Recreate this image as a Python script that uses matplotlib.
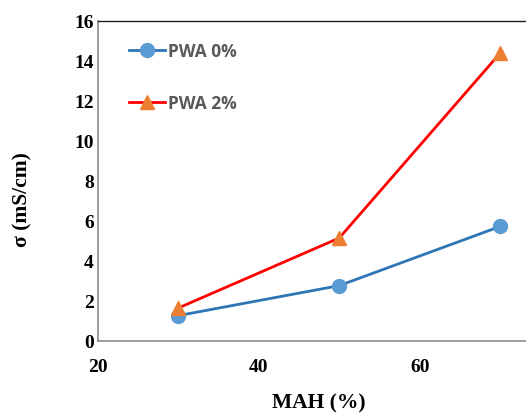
import matplotlib
matplotlib.use("Agg")
import matplotlib.pyplot as plt

# conductivity vs MAH content
mah = [30, 50, 70]
pwa0 = [1.27, 2.77, 5.73]
pwa2 = [1.65, 5.15, 14.4]
labels = ["PWA 0%", "PWA 2%"]
xticks = [20, 40, 60]
yticks = [0, 2, 4, 6, 8, 10, 12, 14, 16]

fig = plt.figure(figsize=(5.26, 4.14), dpi=100)
ax = fig.add_axes([97.8 / 526, 1 - 342 / 414, 1 - 97.8 / 526, 320 / 414])

ax.plot(mah, pwa0, color="#2E75B6", lw=2.0, marker="o", ms=10,
        mfc="#5B9BD5", mec="#5B9BD5", label=labels[0])
ax.plot(mah, pwa2, color="#FF0000", lw=2.0, marker="^", ms=10,
        mfc="#ED7D31", mec="#ED7D31", label=labels[1])

ax.set_xlim(20, 73.2)
ax.set_ylim(0, 16)
ax.set_xticks(xticks)
ax.set_yticks(yticks)

tick_font = dict(family="Liberation Serif", weight="bold", size=14)
ax.set_xticklabels([str(t) for t in xticks], fontdict=tick_font)
ax.set_yticklabels([str(t) for t in yticks], fontdict=tick_font)
ax.tick_params(axis="both", length=0)
ax.tick_params(axis="x", pad=12)
ax.tick_params(axis="y", pad=3)

ax.spines["right"].set_visible(False)
ax.spines["top"].set_color("#222222")
ax.spines["top"].set_linewidth(1.0)
for s in ("left", "bottom"):
    ax.spines[s].set_color("#8c8c8c")
    ax.spines[s].set_linewidth(1.2)

fig.text(22 / 526, 1 - 200 / 414, "σ (mS/cm)", rotation=90, ha="center",
         va="center", family="Liberation Serif", weight="bold", size=15.5)
fig.text(319 / 526, 1 - 403 / 414, "MAH (%)", ha="center", va="center",
         family="Liberation Serif", weight="bold", size=15.5)

leg = ax.legend(loc="upper left", bbox_to_anchor=(129 / 526, 1 - 43 / 414),
                bbox_transform=fig.transFigure, frameon=False, borderpad=0,
                borderaxespad=0, handlelength=2.05, handletextpad=0.2,
                labelspacing=1.95,
                prop=dict(family="Open Sans", weight="bold", size=12.5))
for t in leg.get_texts():
    t.set_color("#595959")

fig.savefig("out.png", dpi=100)
